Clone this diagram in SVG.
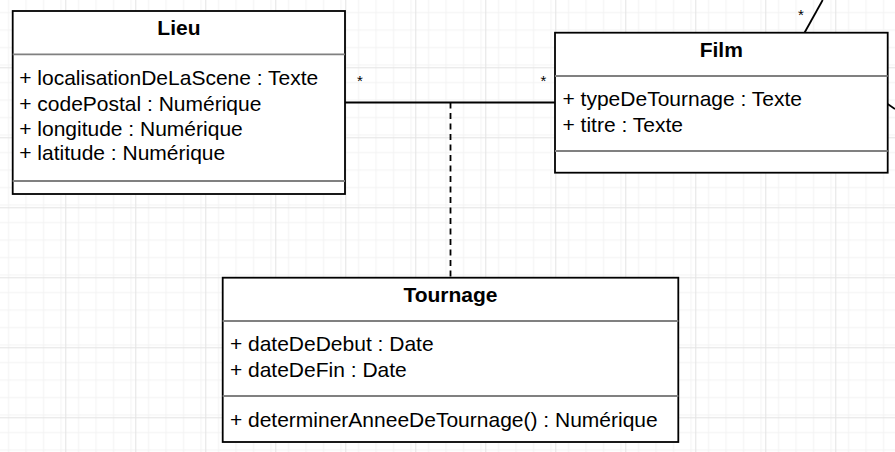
<svg xmlns="http://www.w3.org/2000/svg" width="895" height="452" viewBox="0 0 895 452">
  <defs>
    <pattern id="minor" patternUnits="userSpaceOnUse" x="-4.7" y="-2.7" width="17.5" height="17.5">
      <path d="M0 0.5H17.5M0.5 0V17.5" fill="none" stroke="#f2f2f2" stroke-width="1"/>
    </pattern>
    <pattern id="major" patternUnits="userSpaceOnUse" x="-4.7" y="-2.7" width="70" height="70">
      <rect width="70" height="70" fill="url(#minor)"/>
      <path d="M0 0.5H70M0.5 0V70" fill="none" stroke="#e3e3e3" stroke-width="1"/>
    </pattern>
  </defs>
  <style>
    .box { fill: #ffffff; stroke: #000000; stroke-width: 1.8; }
    .sep { stroke: #808080; stroke-width: 1.8; fill: none; }
    .title { font-family: "Liberation Sans", Arial, sans-serif; font-size: 21px; font-weight: bold; fill: #000; text-anchor: middle; }
    .attr { font-family: "Liberation Sans", Arial, sans-serif; font-size: 21px; fill: #000; }
    .mult { font-family: "Liberation Sans", Arial, sans-serif; font-size: 15px; fill: #000; text-anchor: middle; }
    .line { stroke: #000000; stroke-width: 1.8; fill: none; }
    .dash { stroke: #000000; stroke-width: 1.8; fill: none; stroke-dasharray: 6 4.5; }
  </style>
  <rect width="895" height="452" fill="#ffffff"/>
  <rect width="895" height="452" fill="url(#major)"/>

  <g id="connectors">
    <line class="line" x1="345" y1="102.5" x2="555" y2="102.5"/>
    <line class="dash" x1="450.5" y1="102.5" x2="450.5" y2="277.7"/>
    <line class="line" x1="804.5" y1="32.7" x2="822.7" y2="0"/>
    <line class="line" x1="887.7" y1="104" x2="895" y2="109"/>
    <text class="mult" x="360" y="86">*</text>
    <text class="mult" x="543.5" y="86">*</text>
    <text class="mult" x="801" y="19.5">*</text>
  </g>

  <g id="lieu">
    <rect class="box" x="12.7" y="11" width="332.3" height="183"/>
    <line class="sep" x1="12.7" y1="54.3" x2="345" y2="54.3"/>
    <line class="sep" x1="12.7" y1="181" x2="345" y2="181"/>
    <text class="title" x="178.9" y="35">Lieu</text>
    <text class="attr" x="19.2" y="85">+ localisationDeLaScene : Texte</text>
    <text class="attr" x="19.2" y="111">+ codePostal : Numérique</text>
    <text class="attr" x="19.2" y="135.5">+ longitude : Numérique</text>
    <text class="attr" x="19.2" y="160.3">+ latitude : Numérique</text>
  </g>

  <g id="film">
    <rect class="box" x="555" y="32.7" width="332.7" height="140"/>
    <line class="sep" x1="555" y1="76" x2="887.7" y2="76"/>
    <line class="sep" x1="555" y1="151" x2="887.7" y2="151"/>
    <text class="title" x="721.3" y="56.7">Film</text>
    <text class="attr" x="562.5" y="106">+ typeDeTournage : Texte</text>
    <text class="attr" x="562.5" y="132.3">+ titre : Texte</text>
  </g>

  <g id="tournage">
    <rect class="box" x="222.7" y="277.7" width="455.6" height="164.3"/>
    <line class="sep" x1="222.7" y1="321" x2="678.3" y2="321"/>
    <line class="sep" x1="222.7" y1="396" x2="678.3" y2="396"/>
    <text class="title" x="450.5" y="301.7">Tournage</text>
    <text class="attr" x="229.9" y="350.7">+ dateDeDebut : Date</text>
    <text class="attr" x="229.9" y="377.3">+ dateDeFin : Date</text>
    <text class="attr" x="229.9" y="426.7">+ determinerAnneeDeTournage() : Numérique</text>
  </g>
</svg>
